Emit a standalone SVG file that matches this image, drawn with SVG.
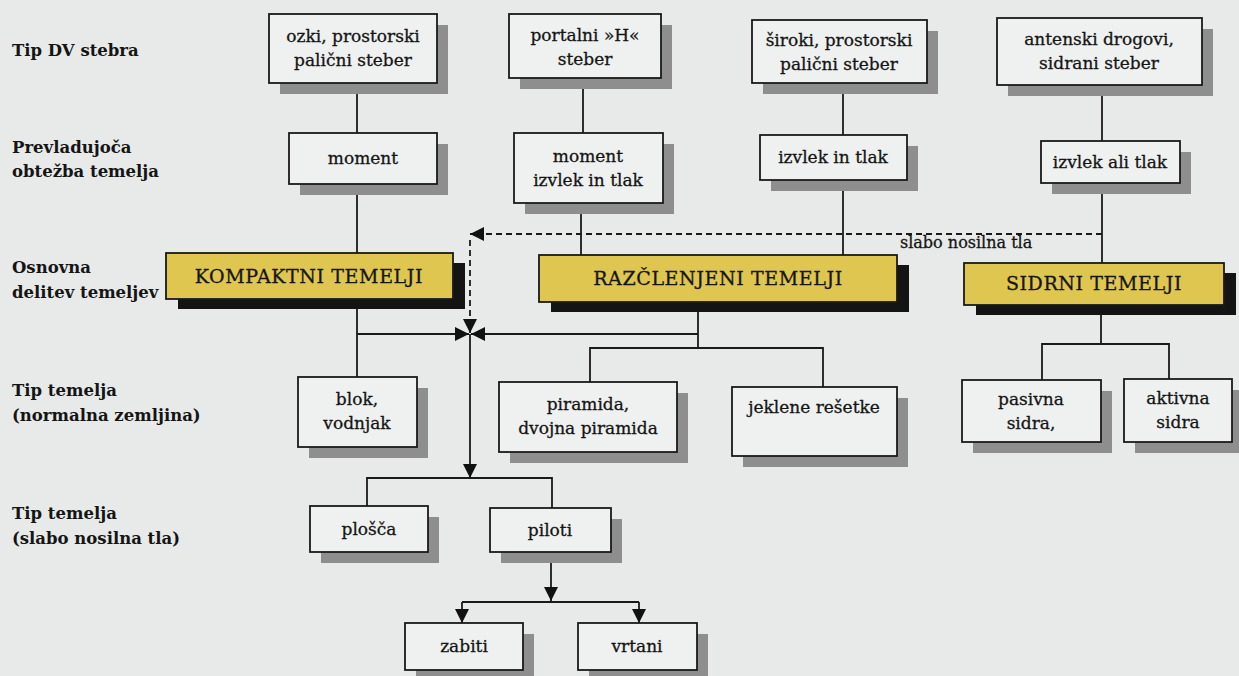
<svg xmlns="http://www.w3.org/2000/svg" width="1239" height="676" viewBox="0 0 1239 676">
<style>
.bg{fill:#e7eae9}
.box{fill:#eff1f0;stroke:#1a1a1a;stroke-width:1.8}
.sh{fill:#8e8e8e}
.ybox{fill:#dfc650;stroke:#1a1a1a;stroke-width:1.8}
.ysh{fill:#141414}
.t{font-family:"DejaVu Serif","Liberation Serif",serif;font-size:17px;fill:#151515;stroke:#151515;stroke-width:0.3;text-anchor:middle}
.yt{font-size:19px;letter-spacing:0.6px}
.lbl{font-family:"DejaVu Serif","Liberation Serif",serif;font-weight:bold;font-size:16.5px;fill:#151515}
.ln{stroke:#1a1a1a;stroke-width:1.8;fill:none}
.dash{stroke-dasharray:6 4}
</style>
<defs>
<marker id="arr" markerUnits="userSpaceOnUse" markerWidth="15" markerHeight="15" refX="14" refY="7" orient="auto">
<path d="M0,0 L14,7 L0,14 z" fill="#111"/>
</marker>
</defs>
<rect class="bg" x="0" y="0" width="1239" height="676"/>

<g id="labels">
<text class="lbl" x="12" y="56">Tip DV stebra</text>
<text class="lbl" x="12" y="153">Prevladujoča</text>
<text class="lbl" x="12" y="177">obtežba temelja</text>
<text class="lbl" x="12" y="273">Osnovna</text>
<text class="lbl" x="12" y="298">delitev temeljev</text>
<text class="lbl" x="12" y="396">Tip temelja</text>
<text class="lbl" x="12" y="421">(normalna zemljina)</text>
<text class="lbl" x="12" y="519">Tip temelja</text>
<text class="lbl" x="12" y="544">(slabo nosilna tla)</text>
</g>

<g id="connectors">
<path class="ln" d="M357,83 V133"/>
<path class="ln" d="M583,78 V133"/>
<path class="ln" d="M843,83 V135"/>
<path class="ln" d="M1102,85 V141"/>
<path class="ln" d="M357,184 V253"/>
<path class="ln" d="M581,203 V255"/>
<path class="ln" d="M843,180 V255"/>
<path class="ln" d="M1102,183 V263"/>
<path class="ln dash" d="M1102,234 H470" marker-end="url(#arr)"/>
<path class="ln dash" d="M470,240 V333" marker-end="url(#arr)"/>
<path class="ln" d="M357,299 V377"/>
<path class="ln" d="M357,334 H469" marker-end="url(#arr)"/>
<path class="ln" d="M698,302 V348"/>
<path class="ln" d="M698,334 H471" marker-end="url(#arr)"/>
<path class="ln" d="M590,382 V348 H823 V387"/>
<path class="ln" d="M470,334 V478" marker-end="url(#arr)"/>
<path class="ln" d="M367,506 V478 H552 V508"/>
<path class="ln" d="M551,552 V601" marker-end="url(#arr)"/>
<path class="ln" d="M462,602 H639"/>
<path class="ln" d="M462,602 V623" marker-end="url(#arr)"/>
<path class="ln" d="M639,602 V623" marker-end="url(#arr)"/>
<path class="ln" d="M1101,305 V344"/>
<path class="ln" d="M1042,380 V344 H1169 V379"/>
<text class="t" x="900" y="248" style="text-anchor:start;font-size:16px">slabo nosilna tla</text>
</g>

<g id="n-ozki">
<rect class="sh" x="280" y="25" width="168" height="69"/>
<rect class="box" x="269" y="14" width="168" height="69"/>
<text class="t" x="353" y="42">ozki, prostorski</text>
<text class="t" x="353" y="66">palični steber</text>
</g>
<g id="n-portalni">
<rect class="sh" x="520" y="25" width="152" height="64"/>
<rect class="box" x="509" y="14" width="152" height="64"/>
<text class="t" x="585" y="41">portalni »H«</text>
<text class="t" x="585" y="65">steber</text>
</g>
<g id="n-siroki">
<rect class="sh" x="763" y="31" width="175" height="63"/>
<rect class="box" x="752" y="20" width="175" height="63"/>
<text class="t" x="839" y="46">široki, prostorski</text>
<text class="t" x="839" y="70">palični steber</text>
</g>
<g id="n-antenski">
<rect class="sh" x="1008" y="29" width="205" height="67"/>
<rect class="box" x="997" y="18" width="205" height="67"/>
<text class="t" x="1099" y="45">antenski drogovi,</text>
<text class="t" x="1099" y="69">sidrani steber</text>
</g>

<g id="n-moment">
<rect class="sh" x="300" y="144" width="148" height="51"/>
<rect class="box" x="289" y="133" width="148" height="51"/>
<text class="t" x="363" y="164">moment</text>
</g>
<g id="n-moment2">
<rect class="sh" x="525" y="144" width="149" height="70"/>
<rect class="box" x="514" y="133" width="149" height="70"/>
<text class="t" x="588" y="162">moment</text>
<text class="t" x="588" y="186">izvlek in tlak</text>
</g>
<g id="n-izvlek-in">
<rect class="sh" x="771" y="146" width="147" height="45"/>
<rect class="box" x="760" y="135" width="147" height="45"/>
<text class="t" x="833" y="163">izvlek in tlak</text>
</g>
<g id="n-izvlek-ali">
<rect class="sh" x="1052" y="152" width="139" height="42"/>
<rect class="box" x="1041" y="141" width="139" height="42"/>
<text class="t" x="1110" y="168">izvlek ali tlak</text>
</g>

<g id="n-kompaktni">
<rect class="ysh" x="178" y="263" width="287" height="46"/>
<rect class="ybox" x="166" y="253" width="287" height="46"/>
<text class="t yt" x="309" y="283">KOMPAKTNI TEMELJI</text>
</g>
<g id="n-razclenjeni">
<rect class="ysh" x="551" y="265" width="358" height="47"/>
<rect class="ybox" x="539" y="255" width="358" height="47"/>
<text class="t yt" x="718" y="285">RAZČLENJENI TEMELJI</text>
</g>
<g id="n-sidrni">
<rect class="ysh" x="976" y="273" width="260" height="42"/>
<rect class="ybox" x="964" y="263" width="260" height="42"/>
<text class="t yt" x="1094" y="290">SIDRNI TEMELJI</text>
</g>

<g id="n-blok">
<rect class="sh" x="309" y="388" width="119" height="70"/>
<rect class="box" x="298" y="377" width="119" height="70"/>
<text class="t" x="357" y="405">blok,</text>
<text class="t" x="357" y="429">vodnjak</text>
</g>
<g id="n-piramida">
<rect class="sh" x="510" y="393" width="178" height="70"/>
<rect class="box" x="499" y="382" width="178" height="70"/>
<text class="t" x="588" y="410">piramida,</text>
<text class="t" x="588" y="434">dvojna piramida</text>
</g>
<g id="n-jeklene">
<rect class="sh" x="743" y="398" width="165" height="69"/>
<rect class="box" x="732" y="387" width="165" height="69"/>
<text class="t" x="814" y="413">jeklene rešetke</text>
</g>
<g id="n-pasivna">
<rect class="sh" x="973" y="391" width="139" height="62"/>
<rect class="box" x="962" y="380" width="139" height="62"/>
<text class="t" x="1031" y="405">pasivna</text>
<text class="t" x="1031" y="429">sidra,</text>
</g>
<g id="n-aktivna">
<rect class="sh" x="1135" y="390" width="108" height="63"/>
<rect class="box" x="1124" y="379" width="108" height="63"/>
<text class="t" x="1178" y="404">aktivna</text>
<text class="t" x="1178" y="428">sidra</text>
</g>

<g id="n-plosca">
<rect class="sh" x="321" y="517" width="118" height="46"/>
<rect class="box" x="310" y="506" width="118" height="46"/>
<text class="t" x="369" y="535">plošča</text>
</g>
<g id="n-piloti">
<rect class="sh" x="501" y="519" width="121" height="44"/>
<rect class="box" x="490" y="508" width="121" height="44"/>
<text class="t" x="550" y="536">piloti</text>
</g>
<g id="n-zabiti">
<rect class="sh" x="416" y="634" width="118" height="47"/>
<rect class="box" x="405" y="623" width="118" height="47"/>
<text class="t" x="464" y="652">zabiti</text>
</g>
<g id="n-vrtani">
<rect class="sh" x="589" y="634" width="119" height="47"/>
<rect class="box" x="578" y="623" width="119" height="47"/>
<text class="t" x="637" y="652">vrtani</text>
</g>
</svg>
